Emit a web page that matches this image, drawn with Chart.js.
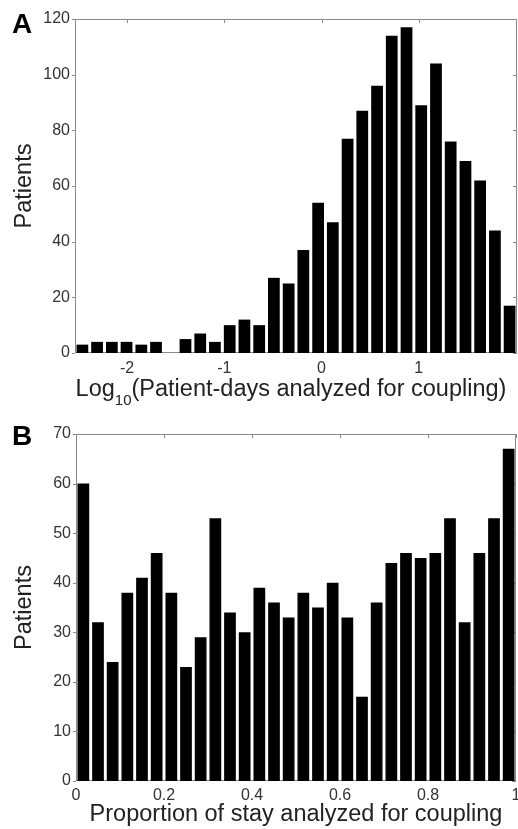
<!DOCTYPE html>
<html>
<head>
<meta charset="utf-8">
<script src="https://cdn.jsdelivr.net/npm/chart.js@4.4.1/dist/chart.umd.min.js"></script>
<style>
  body { margin: 0; background: #fff; }
  #wrap { position: relative; width: 518px; height: 829px; overflow: hidden; }
  canvas { position: absolute; left: 0; }
  .panel { position: absolute; left: 12px; font: bold 28px "Liberation Sans", Arial, sans-serif; line-height: 28px; color: #000; }
</style>
</head>
<body>
<div id="wrap">
  <canvas id="chartA" width="518" height="420" style="top:0"></canvas>
  <canvas id="chartB" width="518" height="429" style="top:400px"></canvas>
  <div class="panel" style="top:10px">A</div>
  <div class="panel" style="top:422px">B</div>
</div>
<script>
"use strict";

// Panel A: log10 of patient-days, 30 bins (bin centres)
const binsA = [-2.459, -2.308, -2.156, -2.005, -1.853, -1.702, -1.550, -1.399, -1.247, -1.096,
               -0.944, -0.793, -0.641, -0.490, -0.338, -0.187, -0.035, 0.116, 0.268, 0.419,
               0.571, 0.722, 0.874, 1.025, 1.177, 1.328, 1.480, 1.631, 1.783, 1.934];
const patientsA = [3, 4, 4, 4, 3, 4, 0, 5, 7, 4,
                   10, 12, 10, 27, 25, 37, 54, 47, 77, 87,
                   96, 114, 117, 89, 104, 76, 69, 62, 44, 17];
const xRangeA = [-2.535, 2.01];
const xTicksA = [-2, -1, 0, 1];
const yTicksA = [0, 20, 40, 60, 80, 100, 120];
const xTitleA = ["Log", "10", "(Patient-days analyzed for coupling)"];

// Panel B: proportion of stay, 30 bins
const binsB = [0.0167, 0.05, 0.0833, 0.1167, 0.15, 0.1833, 0.2167, 0.25, 0.2833, 0.3167,
               0.35, 0.3833, 0.4167, 0.45, 0.4833, 0.5167, 0.55, 0.5833, 0.6167, 0.65,
               0.6833, 0.7167, 0.75, 0.7833, 0.8167, 0.85, 0.8833, 0.9167, 0.95, 0.9833];
const patientsB = [60, 32, 24, 38, 41, 46, 38, 23, 29, 53,
                   34, 30, 39, 36, 33, 38, 35, 40, 33, 17,
                   36, 44, 46, 45, 46, 53, 32, 46, 53, 67];
const xRangeB = [0, 1];
const xTicksB = [0, 0.2, 0.4, 0.6, 0.8, 1];
const yTicksB = [0, 10, 20, 30, 40, 50, 60, 70];
const xTitleB = "Proportion of stay analyzed for coupling";
const yTitle = "Patients";

const FONT = '"Liberation Sans", Arial, Helvetica, sans-serif';
Chart.defaults.font.family = FONT;
Chart.defaults.color = "#333";

// matlab-ish axis box with small ticks
const boxPlugin = {
    id: "box",
    beforeDatasetsDraw(chart) {
        const { ctx, chartArea: a, scales: { x, y } } = chart;
        ctx.save();
        ctx.strokeStyle = "#8a8a8a";
        ctx.lineWidth = 1;
        ctx.strokeRect(a.left + 0.5, a.top + 0.5, a.right - a.left - 1, a.bottom - a.top - 1);
        ctx.beginPath();
        x.ticks.forEach(t => {
            const px = Math.round(x.getPixelForValue(t.value)) + 0.5;
            ctx.moveTo(px, a.top);
            ctx.lineTo(px, a.top + 4);
        });
        y.ticks.forEach(t => {
            const py = Math.round(y.getPixelForValue(t.value)) + 0.5;
            ctx.moveTo(a.left - 3, py);
            ctx.lineTo(a.left, py);
            ctx.moveTo(a.right - 4, py);
            ctx.lineTo(a.right, py);
        });
        ctx.stroke();
        ctx.restore();
    }
};

// x title of panel A needs a subscript
const subTitlePlugin = {
    id: "subTitle",
    afterDraw(chart) {
        const ctx = chart.ctx;
        const big = "23.5px " + FONT;
        const small = "15px " + FONT;
        ctx.save();
        ctx.fillStyle = "#222";
        ctx.textBaseline = "alphabetic";
        ctx.textAlign = "left";
        ctx.font = big;
        const w1 = ctx.measureText(xTitleA[0]).width;
        const w3 = ctx.measureText(xTitleA[2]).width;
        ctx.font = small;
        const w2 = ctx.measureText(xTitleA[1]).width;
        let x0 = 291 - (w1 + w2 + w3) / 2;
        const base = 396;
        ctx.font = big;
        ctx.fillText(xTitleA[0], x0, base);
        x0 += w1;
        ctx.font = small;
        ctx.fillText(xTitleA[1], x0, base + 9);
        x0 += w2;
        ctx.font = big;
        ctx.fillText(xTitleA[2], x0, base);
        ctx.restore();
    }
};

function makeHist(id, bins, values, xRange, xTicks, yTicks, xTitle, box, plugins) {
    const points = bins.map((b, i) => ({ x: b, y: values[i] }));
    return new Chart(document.getElementById(id), {
        type: "bar",
        data: {
            datasets: [{
                data: points,
                backgroundColor: "#000",
                borderWidth: 0,
                barPercentage: 0.8,
                categoryPercentage: 1.0
            }]
        },
        options: {
            responsive: false,
            animation: false,
            devicePixelRatio: 1,
            layout: { padding: { top: box.top, right: box.right, left: 0, bottom: 0 } },
            plugins: { legend: { display: false }, tooltip: { enabled: false } },
            scales: {
                x: {
                    type: "linear",
                    min: xRange[0],
                    max: xRange[1],
                    offset: false,
                    grid: { display: false, drawTicks: false },
                    border: { display: false },
                    afterBuildTicks: s => { s.ticks = xTicks.map(v => ({ value: v })); },
                    afterFit: s => { s.height = box.xHeight; s.paddingLeft = 0; s.paddingRight = 0; },
                    ticks: {
                        autoSkip: false,
                        maxRotation: 0,
                        padding: box.xPad,
                        font: { size: 16 },
                        callback: v => String(v)
                    },
                    title: {
                        display: xTitle !== null,
                        text: xTitle || "",
                        color: "#222",
                        font: { size: 23.5 },
                        padding: { top: 0, bottom: 0 }
                    }
                },
                y: {
                    min: yTicks[0],
                    max: yTicks[yTicks.length - 1],
                    grid: { display: false, drawTicks: false },
                    border: { display: false },
                    afterBuildTicks: s => { s.ticks = yTicks.map(v => ({ value: v })); },
                    afterFit: s => { s.width = box.yWidth; s.paddingTop = 0; s.paddingBottom = 0; },
                    ticks: { padding: 5, font: { size: 16 }, callback: v => String(v) },
                    title: {
                        display: true,
                        text: yTitle,
                        color: "#222",
                        font: { size: 23.5 },
                        padding: { top: 10, bottom: 0 }
                    }
                }
            }
        },
        plugins: plugins
    });
}

makeHist("chartA", binsA, patientsA, xRangeA, xTicksA, yTicksA, null,
    { top: 19, right: 1, xHeight: 67, yWidth: 75, xPad: 6 }, [boxPlugin, subTitlePlugin]);

makeHist("chartB", binsB, patientsB, xRangeB, xTicksB, yTicksB, xTitleB,
    { top: 34, right: 2, xHeight: 48, yWidth: 76, xPad: 5 }, [boxPlugin]);
</script>
</body>
</html>
